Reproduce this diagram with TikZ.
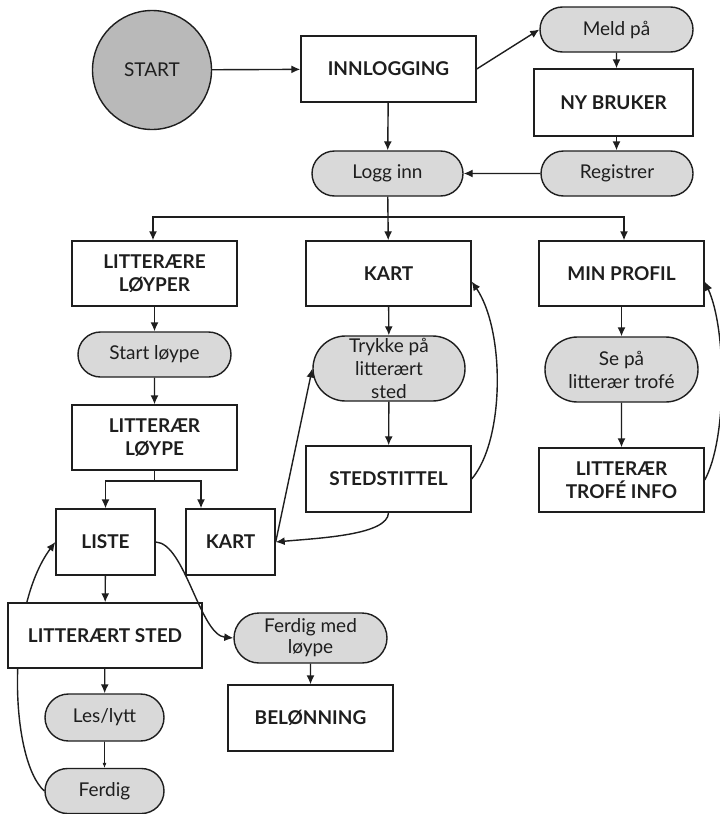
\documentclass[tikz,border=0pt]{standalone}
\usepackage{fontspec}
\setmainfont{Lato}
\usetikzlibrary{arrows.meta,shapes.misc,backgrounds}
\definecolor{ink}{HTML}{1E1E1E}
\definecolor{pill}{HTML}{D9D9D9}
\definecolor{startgray}{HTML}{B9B9B9}
\tikzset{
  box/.style={draw=ink, line width=1.4pt, fill=white, inner sep=0pt, align=center,
    text=ink, font=\fontsize{19}{23}\selectfont\bfseries,
    minimum width=165pt, minimum height=65pt},
  pillbox/.style={rounded rectangle, draw=ink, line width=1.4pt, fill=pill, inner sep=0pt,
    align=center, text=ink, font=\fontsize{19}{23}\selectfont,
    minimum width=153pt, minimum height=45pt},
  startnode/.style={circle, draw=ink, line width=1.4pt, fill=startgray, inner sep=0pt,
    minimum size=119pt, text=ink, font=\fontsize{19}{23}\selectfont},
  link/.style={draw=ink, line width=1.4pt},
  arr/.style={link, -{Latex[length=9pt,width=8pt]}},
  thinarr/.style={draw=ink, line width=0.6pt, -{Latex[length=5pt,width=4pt]}}
}
\begin{document}
\begin{tikzpicture}[x=1pt,y=-1pt]
\useasboundingbox (0,0) rectangle (720,814);

% login section
\node[startnode] (start) at (152,70) {START};
\node[box, minimum width=175pt, minimum height=66pt] (inn) at (388.5,69) {INNLOGGING};
\node[pillbox] (meld) at (616.5,29.5) {Meld på};
\node[box, minimum width=159pt, minimum height=67pt] (ny) at (613.5,102.5) {NY BRUKER};
\node[pillbox, minimum width=152pt] (reg) at (617,173.5) {Registrer};
\node[pillbox, minimum width=151pt] (logg) at (387.5,173.5) {Logg inn};

% three main branches
\node[box] (lop) at (154.5,273.5) {LITTERÆRE\\LØYPER};
\node[box] (kart) at (388.5,273.5) {KART};
\node[box] (prof) at (621.5,273.5) {MIN PROFIL};

\node[pillbox] (startl) at (154.5,354.5) {Start løype};
\node[pillbox, minimum width=152pt, minimum height=65pt] (trykk) at (389,368.5) {Trykke på\\litterært\\sted};
\node[pillbox, minimum height=65pt] (sepaa) at (621.5,369.5) {Se på\\litterær trofé};

\node[box] (lop2) at (154.5,437.5) {LITTERÆR\\LØYPE};
\node[box, minimum height=66pt] (sted) at (388.5,479) {STEDSTITTEL};
\node[box, minimum height=64pt] (trofe) at (621.5,480) {LITTERÆR\\TROFÉ INFO};

% route details
\node[box, minimum width=99pt, minimum height=66pt] (liste) at (105.5,542) {LISTE};
\node[box, minimum width=89pt, minimum height=66pt] (kart2) at (230.5,542) {KART};
\node[box, minimum width=194pt] (lsted) at (105,635.5) {LITTERÆRT STED};
\node[pillbox, minimum width=119pt, minimum height=47pt] (les) at (104.5,717.5) {Les/lytt};
\node[pillbox, minimum width=119pt] (ferdig) at (104.5,791) {Ferdig};
\node[pillbox, minimum height=50pt, font=\fontsize{19}{21}\selectfont] (fml) at (310.5,638) {Ferdig med\\løype};
\node[box, minimum height=66pt] (bel) at (310.5,718) {BELØNNING};

% connectors
\draw[arr] (start) -- (inn);
\draw[arr] (inn.east) -- (meld.west);
\draw[arr] (meld) -- (meld |- ny.north);
\draw[arr] (ny.south -| meld) -- (meld |- reg.north);
\draw[arr] (reg) -- (logg);
\draw[arr] (inn) -- (logg);

\coordinate (hub) at (388,217);
\draw[link] (logg) -- (hub);
\draw[arr] (hub) -| ([xshift=-1.5pt]lop.north);
\draw[arr] (hub) -- (kart);
\draw[arr] (hub) -| ([xshift=2.5pt]prof.north);

\draw[arr] (lop) -- (startl);
\draw[arr] (startl) -- (lop2);
\draw[arr] (kart) -- (trykk);
\draw[arr] (trykk) -- (sted);
\draw[arr] (prof) -- (sepaa);
\draw[arr] (sepaa) -- (trofe);

\draw[arr] (sted.east) .. controls (505,440) and (505,330) .. ([yshift=-8pt]kart.east);
\draw[arr] (trofe.east) .. controls (727,440) and (727,330) .. ([yshift=-8pt]prof.east);
\draw[arr] (sted.south) .. controls (388,535) and (320,538) .. (kart2.east);
\draw[arr] (kart2.east) -- (trykk.west);

\coordinate (hub2) at (154.5,481);
\draw[link] (lop2) -- (hub2);
\draw[arr] (hub2) -| (liste.north);
\draw[arr] (hub2) -| ([xshift=-29.5pt]kart2.north);

\draw[arr] (liste) -- (lsted);
\draw[arr] (liste.east) .. controls (185,543) and (200,635) .. (fml.west);
\draw[arr] (lsted) -- (les);
\draw[thinarr] (les) -- (ferdig);
\draw[arr] (fml) -- (bel);

% the return path from Ferdig runs behind the LITTERÆRT STED box
\begin{pgfonlayer}{background}
\fill[white] (0,0) rectangle (720,814);
\draw[arr] (ferdig.west) .. controls (10,760) and (5,610) .. (liste.west);
\end{pgfonlayer}
\end{tikzpicture}
\end{document}
